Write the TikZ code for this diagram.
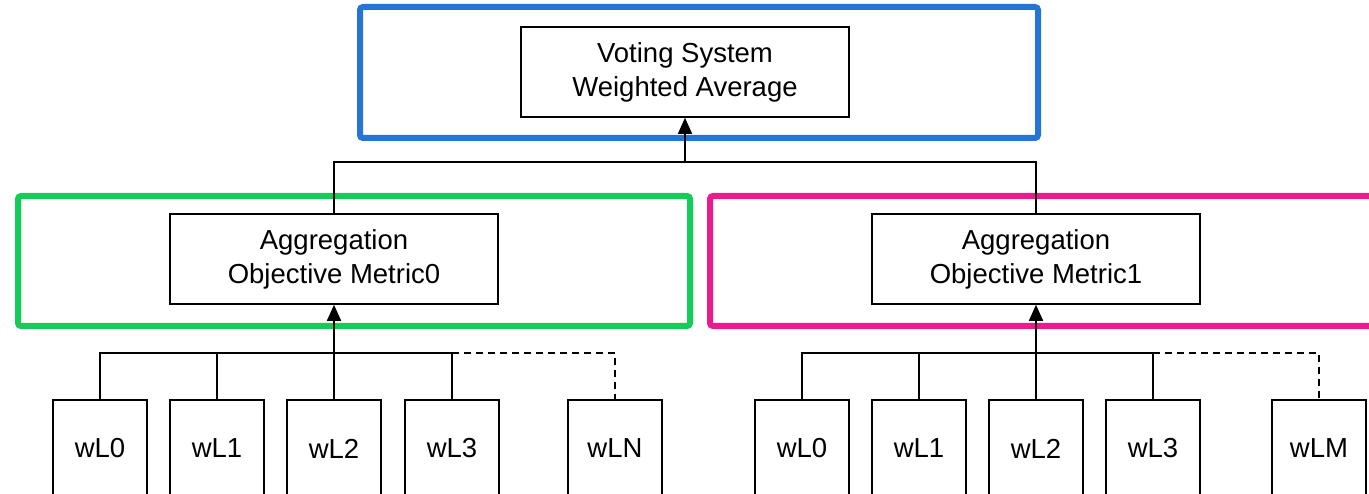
\documentclass[tikz,border=0pt]{standalone}
\usepackage{fontspec}
\setmainfont{Liberation Sans}
\usetikzlibrary{arrows.meta}
\definecolor{cblue}{RGB}{36,117,214}
\definecolor{cgreen}{RGB}{20,204,88}
\definecolor{cmag}{RGB}{236,26,140}
\begin{document}
\begin{tikzpicture}[x=1pt,y=-1pt,
 box/.style={draw, line width=1.6pt, inner sep=0pt, align=center, font=\fontsize{27.5}{34}\selectfont},
 big/.style={box, minimum width=328pt, minimum height=90pt},
 leaf/.style={box, minimum width=94pt, minimum height=97pt},
 wire/.style={line width=1.6pt},
 frame/.style={line width=6pt, rounded corners=3pt},
 uparrow/.style={arrows={-Triangle[length=16pt,width=14pt]}}]
\useasboundingbox (0,0) rectangle (1369,494);
% frames
\draw[frame, cblue] (360,7) rectangle (1038,138);
\draw[frame, cgreen] (18,196) rectangle (690,326);
\draw[frame, cmag] (710,196) rectangle (1385,326);
% main nodes
\node[big] (top) at (685,72) {Voting System\\Weighted Average};
\node[big] (a0) at (334,259) {Aggregation\\Objective Metric0};
\node[big] (a1) at (1036,259) {Aggregation\\Objective Metric1};
% leaves left
\node[leaf] (l0) at (100,448.5) {wL0};
\node[leaf] (l1) at (217,448.5) {wL1};
\node[leaf] (l2) at (334,448.5) {wL2};
\node[leaf] (l3) at (452,448.5) {wL3};
\node[leaf] (lN) at (615,448.5) {wLN};
% leaves right
\node[leaf] (r0) at (802,448.5) {wL0};
\node[leaf] (r1) at (919,448.5) {wL1};
\node[leaf] (r2) at (1036,448.5) {wL2};
\node[leaf] (r3) at (1153,448.5) {wL3};
\node[leaf] (rM) at (1319,448.5) {wLM};
% top connectors
\coordinate (j) at (685,162);
\draw[wire] (a0.north) |- (j) -| (a1.north);
\draw[wire, uparrow] (j) -- (top.south);
% left group
\coordinate (jl) at (334,353);
\draw[wire] (l0.north) |- (l3.north |- jl) -- (l3.north);
\draw[wire] (l1.north) -- (l1.north |- jl);
\draw[wire] (l2.north) -- (jl);
\draw[wire, uparrow] (jl) -- (a0.south);
\draw[wire, dash pattern=on 7pt off 5pt] (l3.north |- jl) -| (lN.north);
% right group
\coordinate (jr) at (1036,353);
\draw[wire] (r0.north) |- (r3.north |- jr) -- (r3.north);
\draw[wire] (r1.north) -- (r1.north |- jr);
\draw[wire] (r2.north) -- (jr);
\draw[wire, uparrow] (jr) -- (a1.south);
\draw[wire, dash pattern=on 7pt off 5pt] (r3.north |- jr) -| (rM.north);
\end{tikzpicture}
\end{document}
